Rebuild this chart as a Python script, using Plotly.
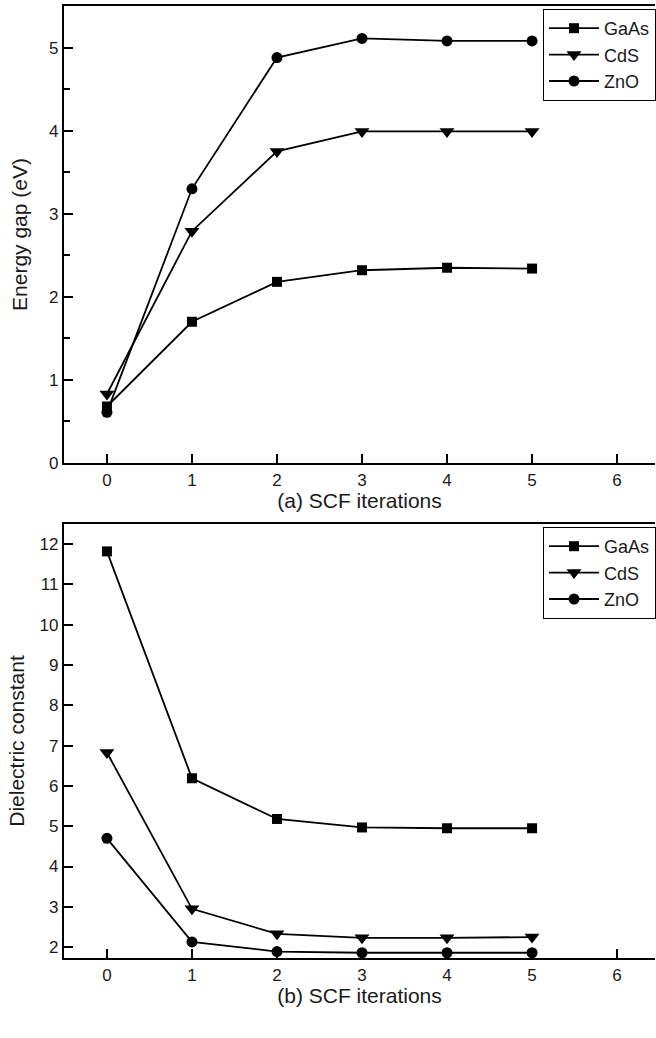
import plotly.graph_objects as go

iterations = [0, 1, 2, 3, 4, 5]
series_names = ["GaAs", "CdS", "ZnO"]

gap_gaas = [0.68, 1.70, 2.18, 2.32, 2.35, 2.34]
gap_cds = [0.83, 2.79, 3.75, 3.99, 3.99, 3.99]
gap_zno = [0.61, 3.30, 4.88, 5.11, 5.08, 5.08]

diel_gaas = [11.82, 6.19, 5.18, 4.97, 4.95, 4.95]
diel_cds = [6.83, 2.95, 2.33, 2.23, 2.23, 2.25]
diel_zno = [4.70, 2.13, 1.89, 1.86, 1.86, 1.86]

symbols = ["square", "triangle-down", "circle"]
sizes = [10, 13, 11]

FONT = "Liberation Sans, Arial, sans-serif"
TXT = "#1a1a1a"

fig = go.Figure()
for name, ys, sym, sz in zip(series_names, [gap_gaas, gap_cds, gap_zno], symbols, sizes):
    fig.add_trace(go.Scatter(x=iterations, y=ys, name=name, mode="lines+markers",
                             line=dict(color="black", width=1.8),
                             marker=dict(symbol=sym, size=sz, color="black"),
                             xaxis="x", yaxis="y", legend="legend"))
for name, ys, sym, sz in zip(series_names, [diel_gaas, diel_cds, diel_zno], symbols, sizes):
    fig.add_trace(go.Scatter(x=iterations, y=ys, name=name, mode="lines+markers",
                             line=dict(color="black", width=1.8),
                             marker=dict(symbol=sym, size=sz, color="black"),
                             xaxis="x2", yaxis="y2", legend="legend2"))

xcommon = dict(range=[-0.505, 6.446], tickmode="array", tickvals=[0, 1, 2, 3, 4, 5, 6],
               ticks="inside", ticklen=9, tickwidth=1.8, tickcolor="black",
               showline=True, linecolor="black", linewidth=2.2, mirror=True,
               showgrid=False, zeroline=False,
               tickfont=dict(family=FONT, size=17, color=TXT))
ycommon = dict(ticks="inside", ticklen=9, tickwidth=1.8, tickcolor="black",
               showline=True, linecolor="black", linewidth=2.2, mirror=False,
               showgrid=False, zeroline=False,
               tickfont=dict(family=FONT, size=17, color=TXT))

H_PLOT = 1038 - 6 - 80
def py(px):
    return (958 - px) / H_PLOT

LEG_X = (544 - 64) / 592

fig.update_layout(
    width=656, height=1038,
    margin=dict(l=64, r=0, t=6, b=80),
    plot_bgcolor="white", paper_bgcolor="white",
    showlegend=True,
    xaxis=dict(**xcommon, domain=[0, 1], anchor="y",
               title=dict(text="(a) SCF iterations", font=dict(family=FONT, size=21, color=TXT), standoff=4)),
    yaxis=dict(**ycommon, domain=[py(463), 1.0], anchor="x", range=[0, 5.5],
               tickvals=[0, 1, 2, 3, 4, 5],
               minor=dict(tickvals=[0.5, 1.5, 2.5, 3.5, 4.5], ticks="inside", ticklen=6, tickwidth=1.8, tickcolor="black"),
               title=dict(text="Energy gap (eV)", font=dict(family=FONT, size=21, color=TXT), standoff=16)),
    xaxis2=dict(**xcommon, domain=[0, 1], anchor="y2",
                title=dict(text="(b) SCF iterations", font=dict(family=FONT, size=21, color=TXT), standoff=4)),
    yaxis2=dict(**ycommon, domain=[0.0, py(524)], anchor="x2", range=[1.73, 12.5],
                tickvals=[2, 3, 4, 5, 6, 7, 8, 9, 10, 11, 12],
                title=dict(text="Dielectric constant", font=dict(family=FONT, size=21, color=TXT), standoff=9)),
    legend=dict(x=LEG_X, y=py(9), xref="paper", yref="paper", xanchor="left", yanchor="top",
                bgcolor="white", bordercolor="black", borderwidth=1,
                font=dict(family=FONT, size=18, color=TXT), tracegroupgap=0, itemwidth=50),
    legend2=dict(x=LEG_X, y=py(527), xref="paper", yref="paper", xanchor="left", yanchor="top",
                 bgcolor="white", bordercolor="black", borderwidth=1,
                 font=dict(family=FONT, size=18, color=TXT), tracegroupgap=0, itemwidth=50),
)

fig.write_html("out.html", post_script="document.body.style.margin='0';",
               config={"displayModeBar": False})
